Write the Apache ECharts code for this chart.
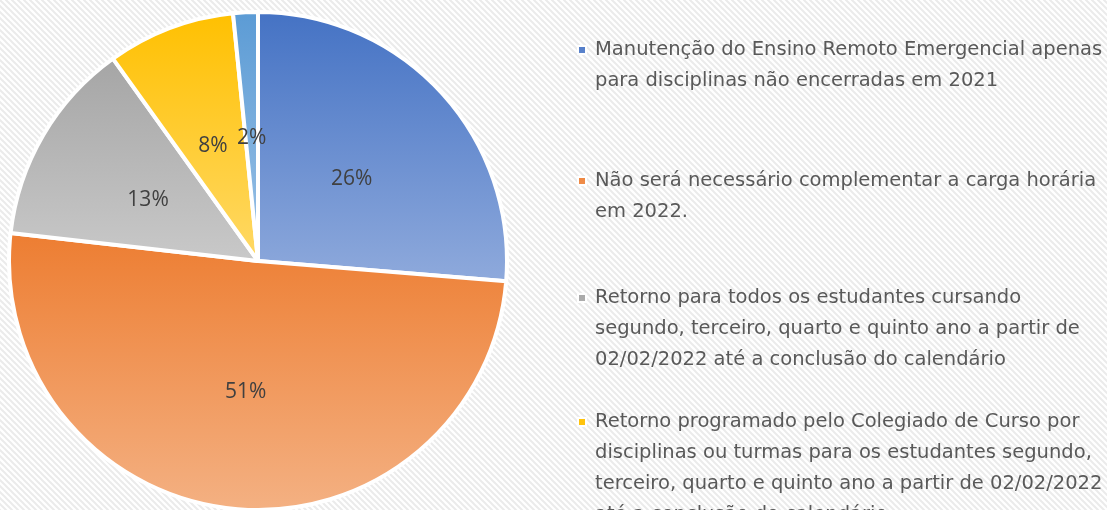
<!DOCTYPE html>
<html>
<head>
<meta charset="utf-8">
<script src="https://cdn.jsdelivr.net/npm/echarts@6/dist/echarts.min.js"></script>
<style>
  html, body { margin: 0; padding: 0; background: #fff; }
  #chart { width: 1107px; height: 510px; }
</style>
</head>
<body>
<div id="chart"></div>
<script>
// categories (legend texts, already broken into lines like the original)
const categories = [
  'Manutenção do Ensino Remoto Emergencial apenas\npara disciplinas não encerradas em 2021',
  'Não será necessário complementar a carga horária\nem 2022.',
  'Retorno para todos os estudantes cursando\nsegundo, terceiro, quarto e quinto ano a partir de\n02/02/2022 até a conclusão do calendário',
  'Retorno programado pelo Colegiado de Curso por\ndisciplinas ou turmas para os estudantes segundo,\nterceiro, quarto e quinto ano a partir de 02/02/2022\naté a conclusão do calendário',
  'Outros'
]
// share of answers, percent
const values = [26.3, 50.5, 13.3, 8.3, 1.6]
const colorsTop = ['#4472C4', '#ED7D31', '#A5A5A5', '#FFC000', '#5B9BD5']
const colorsBottom = ['#8FAADC', '#F4B183', '#C9C9C9', '#FFD966', '#9DC3E6']
// first-line centre of each legend entry
const legendLineY = [49, 180, 297, 421, 560]

const LINE_H = 31

// diagonal striped background
function stripes () {
  const c = document.createElement('canvas')
  c.width = 6
  c.height = 6
  const g = c.getContext('2d')
  g.fillStyle = '#ffffff'
  g.fillRect(0, 0, 6, 6)
  g.strokeStyle = '#ebebeb'
  g.lineWidth = 2
  g.beginPath()
  g.moveTo(-3, -3); g.lineTo(9, 9)
  g.moveTo(-9, -3); g.lineTo(3, 9)
  g.moveTo(3, -3); g.lineTo(15, 9)
  g.stroke()
  return c
}

// square marker sitting on the first text line; the stray moveTo points
// make the icon box as tall as the whole text block
const legends = categories.map((name, i) => {
  const n = name.split('\n').length
  const h = n * LINE_H
  const y0 = LINE_H / 2 - 4
  return {
    data: [name],
    orient: 'vertical',
    left: 577,
    top: legendLineY[i] - LINE_H / 2,
    padding: 0,
    itemWidth: 8,
    itemHeight: h,
    icon: `path://M0,0M0,${h}M0,${y0}h8v8h-8z`,
    selectedMode: false,
    textStyle: {
      color: '#595959',
      fontSize: 19.5,
      fontFamily: '"DejaVu Sans", sans-serif',
      lineHeight: LINE_H,
      padding: [0, 0, 0, 4]
    }
  }
})

const chart = echarts.init(document.getElementById('chart'))
chart.setOption({
  backgroundColor: { image: stripes(), repeat: 'repeat' },
  animation: false,
  legend: legends,
  series: [{
    type: 'pie',
    center: [258, 261],
    radius: 249,
    startAngle: 90,
    clockwise: true,
    avoidLabelOverlap: false,
    itemStyle: { borderColor: '#ffffff', borderWidth: 4 },
    label: {
      position: 'inside',
      offset: [0, 4],
      color: '#404040',
      fontSize: 21,
      fontFamily: '"Open Sans", sans-serif',
      formatter: p => Math.round(p.value) + '%'
    },
    labelLine: { show: false },
    emphasis: { disabled: true },
    data: categories.map((name, i) => ({
      name,
      value: values[i],
      itemStyle: {
        color: new echarts.graphic.LinearGradient(0, 0, 0, 1, [
          { offset: 0, color: colorsTop[i] },
          { offset: 1, color: colorsBottom[i] }
        ])
      }
    }))
  }]
})
</script>
</body>
</html>
